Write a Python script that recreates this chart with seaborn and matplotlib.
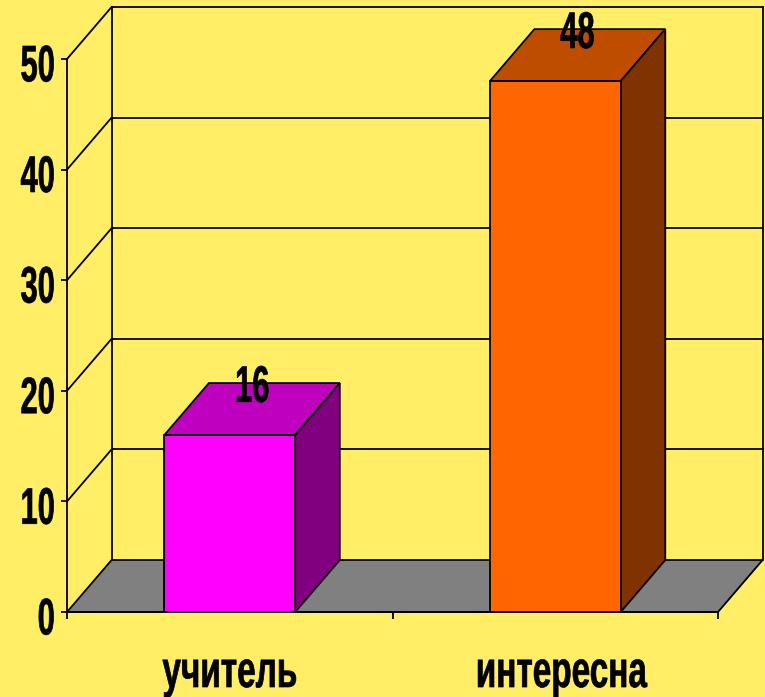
import matplotlib
matplotlib.use("Agg")
import matplotlib.pyplot as plt
import pandas as pd
import seaborn as sns
from matplotlib.patches import Polygon
from matplotlib.patheffects import AbstractPathEffect
from matplotlib.transforms import Affine2D

categories = ["учитель", "интересна"]
values = [16, 48]
front_colors = ["#FF00FF", "#FF6600"]
top_colors = ["#BF00BF", "#BF4D00"]
side_colors = ["#800080", "#803300"]
y_ticks = [0, 10, 20, 30, 40, 50]

BG = "#FFEE66"
FLOOR = "#808080"
BAR_WIDTH = 0.402
DEPTH_X = 0.137  # depth offset in category units
DEPTH_Y = 4.7  # depth offset in value units
LW = 1.3
FONT_SIZE = 30


class Squeeze(AbstractPathEffect):
    # the original font is a tall narrow Arial, so reshape the glyphs
    def __init__(self, sx, sy=1.233, anchor=0.5, baseline=False, dy=0, bold=0.5):
        super().__init__()
        self.sx = sx
        self.sy = sy
        self.anchor = anchor
        self.baseline = baseline
        self.dy = dy
        self.bold = bold

    def draw_path(self, renderer, gc, tpath, affine, rgbFace=None):
        box = tpath.get_extents()
        cx = box.x0 + self.anchor * box.width
        cy = 0 if self.baseline else (box.y0 + box.y1) / 2
        reshape = Affine2D().translate(-cx, -cy).scale(self.sx, self.sy).translate(cx, cy)
        gc0 = renderer.new_gc()
        gc0.copy_properties(gc)
        gc0.set_linewidth(self.bold)
        gc0.set_foreground("black")
        renderer.draw_path(gc0, tpath, reshape + affine + Affine2D().translate(0, self.dy), rgbFace)
        gc0.restore()


plt.rcParams["font.family"] = ["Liberation Sans", "DejaVu Sans"]
plt.rcParams["font.weight"] = "bold"

fig = plt.figure(figsize=(7.65, 6.97), dpi=100, facecolor=BG)
ax = fig.add_axes([67 / 765, 85 / 697, 651 / 765, 553 / 697], facecolor="none")

df = pd.DataFrame({"category": categories, "value": values})
sns.barplot(data=df, x="category", y="value", hue="category", palette=front_colors,
            width=BAR_WIDTH, legend=False, edgecolor="black", linewidth=LW, saturation=1, ax=ax, zorder=5)
ax.set_xlim(-0.5, 1.5)
ax.set_ylim(0, 50)


def face(points, color, zorder):
    ax.add_patch(Polygon(points, closed=True, facecolor=color, edgecolor="black",
                         linewidth=LW, clip_on=False, zorder=zorder))


# floor and back wall lines
x0, x1 = ax.get_xlim()
face([(x0, 0), (x1, 0), (x1 + DEPTH_X, DEPTH_Y), (x0 + DEPTH_X, DEPTH_Y)], FLOOR, 1)
for tick in y_ticks[1:]:
    ax.plot([x0 + DEPTH_X, x1 + DEPTH_X], [tick + DEPTH_Y] * 2, color="black", lw=LW, clip_on=False, zorder=2)
    ax.plot([x0, x0 + DEPTH_X], [tick, tick + DEPTH_Y], color="black", lw=LW, clip_on=False, zorder=2)
for wall_x in [x0 + DEPTH_X, x1 + DEPTH_X]:
    ax.plot([wall_x] * 2, [DEPTH_Y, y_ticks[-1] + DEPTH_Y], color="black", lw=LW, clip_on=False, zorder=2)

# 3d faces of the bars
for i, v in enumerate(values):
    left, right = i - BAR_WIDTH / 2, i + BAR_WIDTH / 2
    face([(left, v), (right, v), (right + DEPTH_X, v + DEPTH_Y), (left + DEPTH_X, v + DEPTH_Y)], top_colors[i], 4)
    face([(right, 0), (right, v), (right + DEPTH_X, v + DEPTH_Y), (right + DEPTH_X, DEPTH_Y)], side_colors[i], 4)
    ax.text(i + DEPTH_X / 2, v + DEPTH_Y - 0.4, str(v), ha="center", va="center", fontsize=FONT_SIZE,
            color="black", zorder=6, clip_on=False, path_effects=[Squeeze(0.74)])

ax.set_yticks(y_ticks)
ax.set_xticks([-0.5, 0.5, 1.5])
ax.set_xticklabels([])
ax.set_xlabel("")
ax.set_ylabel("")
ax.tick_params(axis="y", length=4.5, width=LW, labelsize=FONT_SIZE, pad=4)
ax.tick_params(axis="x", length=5, width=LW)
for label in ax.get_yticklabels():
    label.set_path_effects([Squeeze(0.74, anchor=1, dy=-3.5)])
for i, name in enumerate(categories):
    ax.annotate(name, (i, 0), xytext=(i * 4, -54), textcoords="offset points", ha="center", va="baseline",
                fontsize=FONT_SIZE, annotation_clip=False, path_effects=[Squeeze(0.8, baseline=True)])
sns.despine(ax=ax, top=True, right=True)
for side in ["left", "bottom"]:
    ax.spines[side].set_linewidth(LW)

fig.savefig("out.png", dpi=100, facecolor=BG)
